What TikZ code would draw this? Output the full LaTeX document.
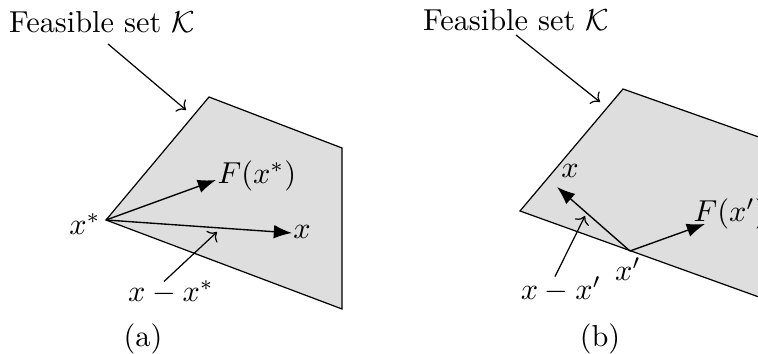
\documentclass[tikz,border=0pt]{standalone}
\usepackage{amsmath}
\usetikzlibrary{arrows.meta,positioning,calc}
\definecolor{cEdge}{HTML}{000000}
\definecolor{cSetBg}{HTML}{DEDEDE}
\tikzset{
  region/.style={draw=cEdge, line width=0.4pt, fill=cSetBg, line join=miter},
  lbl/.style={inner sep=1pt, anchor=base},
  lblw/.style={inner sep=0pt, anchor=base west},
  vec/.style={-{Latex[length=6pt,width=4.5pt]}, line width=0.45pt},
  pointer/.style={->, line width=0.4pt},
  panelcap/.style={inner sep=1pt, anchor=base},
}

\begin{document}
\begin{tikzpicture}[x=0.33pt, y=-0.33pt]
    \clip (0,0) rectangle (758,354);
    % panel (a): corner point of the set
    \coordinate (a1) at (106,220);
    \coordinate (a2) at (209,97);
    \coordinate (a3) at (342,148);
    \coordinate (a4) at (342,309);
    \filldraw[region] (a1) -- (a2) -- (a3) -- (a4) -- cycle;
    \coordinate (tipFa) at (216,180);
    \coordinate (tipXa) at (292,233);
    \coordinate (tipDa) at (217,232);
    \coordinate (tipKa) at (186,110);
    \node[lbl] (Ka) at (102,33) {Feasible set $\mathcal{K}$};
    \node[lbl] (xsa) at (85,235) {$x^*$};
    \node[lblw] (Fa) at (217,184) {$F(x^*)$};
    \node[lbl] (xa) at (302,239) {$x$};
    \node[lbl] (dxa) at (171,302) {$x - x^*$};
    \node[panelcap] (capa) at (143,347) {(a)};
    \draw[vec] (a1) -- (tipFa);
    \draw[vec] (a1) -- (tipXa);
    \draw[pointer] ([shift={(6,7)}]Ka.south) -- (tipKa);
    \draw[pointer] ([shift={(-7,4)}]dxa.north) -- (tipDa);
    % panel (b): point on the boundary
    \coordinate (b1) at (520,211);
    \coordinate (b2) at (623,89);
    \coordinate (b3) at (770,141);
    \coordinate (b4) at (770,301);
    \filldraw[region] (b1) -- (b2) -- (b3) -- (b4) -- cycle;
    \coordinate (xp) at (630,251);
    \coordinate (tipXb) at (557,187);
    \coordinate (tipFb) at (705,224);
    \coordinate (tipDb) at (585,216);
    \coordinate (tipKb) at (600,102);
    \node[lbl] (Kb) at (516,31) {Feasible set $\mathcal{K}$};
    \node[lbl] (xb) at (570,178) {$x$};
    \node[lblw] (Fb) at (693,222) {$F(x')$};
    \node[lbl] (xpb) at (628,281) {$x'$};
    \node[lbl] (dxb) at (561,300) {$x - x'$};
    \node[panelcap] (capb) at (600,347) {(b)};
    \draw[vec] (xp) -- (tipXb);
    \draw[vec] (xp) -- (tipFb);
    \draw[pointer] (Kb.south) -- (tipKb);
    \draw[pointer] ([shift={(-6,3)}]dxb.north) -- (tipDb);
  \end{tikzpicture}
\end{document}
